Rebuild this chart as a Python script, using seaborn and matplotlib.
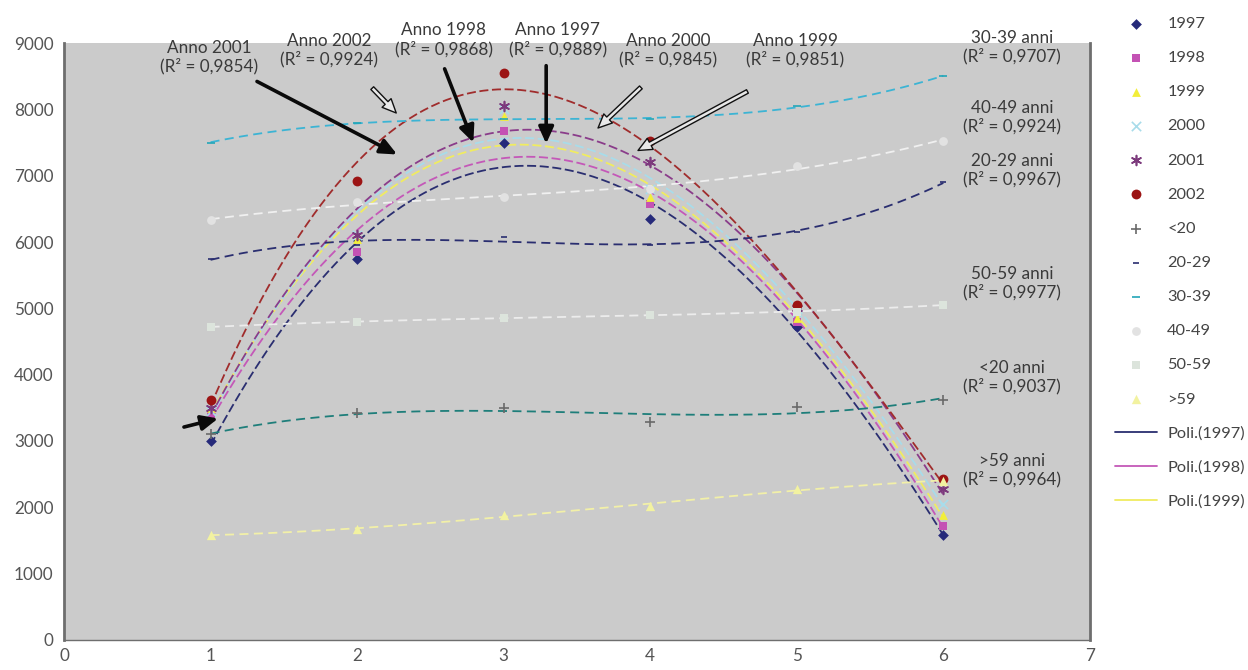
import numpy as np
import pandas as pd
import matplotlib
matplotlib.use("Agg")
import matplotlib.pyplot as plt
import seaborn as sns
from matplotlib.patches import FancyArrowPatch

# Position on the x axis (1..6)
x_pos = [1, 2, 3, 4, 5, 6]

# Series by year (points across age groups)
y1997 = [3000, 5750, 7500, 6350, 4720, 1580]
y1998 = [3400, 5850, 7680, 6580, 4800, 1720]
y1999 = [3500, 6050, 7900, 6680, 4850, 1880]
y2000 = [3450, 6100, 8000, 6800, 4950, 2050]
y2001 = [3500, 6100, 8050, 7200, 5000, 2280]
y2002 = [3620, 6920, 8550, 7520, 5050, 2420]

# Series by age group (points across years)
a_lt20 = [3100, 3420, 3500, 3280, 3520, 3620]
a_2029 = [5750, 5950, 6080, 5950, 6150, 6900]
a_3039 = [7500, 7800, 7850, 7850, 8050, 8500]
a_4049 = [6330, 6600, 6680, 6800, 7150, 7530]
a_5059 = [4720, 4800, 4850, 4900, 4950, 5050]
a_gt59 = [1580, 1680, 1880, 2020, 2280, 2400]

year_labels = ["1997", "1998", "1999", "2000", "2001", "2002"]
age_labels = ["<20", "20-29", "30-39", "40-49", "50-59", ">59"]

sns.set_style("white")
plt.rcParams["font.family"] = ["Lato", "DejaVu Sans"]

fig = plt.figure(figsize=(12.48, 6.70), dpi=100)
ax = fig.add_axes([0.0513, 0.0448, 0.8220, 0.8910])
ax.set_facecolor("#cbcbcb")

year_series = [y1997, y1998, y1999, y2000, y2001, y2002]
year_marker = ["D", "s", "^", "x", (6, 2, 0), "o"]
year_mcolor = ["#262a7a", "#c452b4", "#f2ee3a", "#a8dcea", "#7c3a7c", "#9c1414"]
year_msize = [30, 40, 40, 45, 50, 50]
year_lcolor = ["#2a2e70", "#c458b8", "#f0ec60", "#a8dcea", "#8a3c8a", "#a02c2c"]

age_series = [a_lt20, a_2029, a_3039, a_4049, a_5059, a_gt59]
age_marker = ["+", "_", "_", "o", "s", "^"]
age_mcolor = ["#6a6a6a", "#2a2e70", "#22a6b8", "#e2e2e2", "#dce4dc", "#f2f2a0"]
age_msize = [50, 20, 40, 40, 40, 45]
age_lcolor = ["#1e7e7a", "#2a2e70", "#3cb4d4", "#f0f0f0", "#ececec", "#f2f0a8"]

xs = np.linspace(1, 6, 200)
ORDER = 3

# Markers
for vals, lab, m, c, s in zip(year_series, year_labels, year_marker, year_mcolor, year_msize):
    sns.scatterplot(x=x_pos, y=vals, ax=ax, marker=m, color=c, s=s, label=lab,
                    linewidth=1.2 if m in ("x", (6, 2, 0)) else 0, zorder=5)
for vals, lab, m, c, s in zip(age_series, age_labels, age_marker, age_mcolor, age_msize):
    sns.scatterplot(x=x_pos, y=vals, ax=ax, marker=m, color=c, s=s, label=lab,
                    linewidth=1.2 if m in ("+", "_") else 0, zorder=5)

# Polynomial trend lines
for vals, lab, c in zip(year_series, year_labels, year_lcolor):
    coef = np.polyfit(x_pos, vals, ORDER)
    sns.lineplot(x=xs, y=np.polyval(coef, xs), ax=ax, color=c, lw=1.3,
                 linestyle=(0, (5, 2)), label=f"Poli.({lab})", zorder=3)
for vals, lab, c in zip(age_series, age_labels, age_lcolor):
    coef = np.polyfit(x_pos, vals, ORDER)
    sns.lineplot(x=xs, y=np.polyval(coef, xs), ax=ax, color=c, lw=1.3,
                 linestyle=(0, (5, 3)), label=f"Poli.({lab})", zorder=3)

ax.set_xlim(0, 7)
ax.set_ylim(0, 9000)
ax.set_xticks(range(0, 8))
ax.set_yticks(range(0, 9001, 1000))
ax.tick_params(axis="both", labelsize=12.3, colors="#555555", length=4, width=0.8,
               direction="out")
ax.tick_params(axis="x", pad=2)
for lbl in ax.get_xticklabels() + ax.get_yticklabels():
    lbl.set_color("#555555")
for side in ("left", "bottom", "right"):
    ax.spines[side].set_visible(True)
    ax.spines[side].set_color("#6e6e6e")
ax.spines["left"].set_linewidth(2.0)
ax.spines["bottom"].set_linewidth(1.0)
ax.spines["right"].set_linewidth(2.0)
ax.spines["top"].set_visible(False)

# Legend outside the plot on the right (first fifteen entries)
handles, labels = ax.get_legend_handles_labels()
ax.get_legend().remove()
leg = fig.legend(handles[:15], labels[:15], loc="upper left",
                 bbox_to_anchor=(0.888, 0.985), frameon=False, fontsize=11.8,
                 labelspacing=1.2, handlelength=2.6, handletextpad=0.6,
                 borderaxespad=0)
for t in leg.get_texts():
    t.set_color("#444444")
for ln in leg.get_lines():
    ln.set_linestyle("-")

# Labels for the trend lines
txt_kw = dict(ha="center", va="center", fontsize=12.3, color="#3a3a3a",
              linespacing=1.15, zorder=8)
year_notes = [
    ("Anno 2001\n(R² = 0,9854)", 0.99, 8790),
    ("Anno 2002\n(R² = 0,9924)", 1.81, 8895),
    ("Anno 1998\n(R² = 0,9868)", 2.59, 9050),
    ("Anno 1997\n(R² = 0,9889)", 3.37, 9050),
    ("Anno 2000\n(R² = 0,9845)", 4.12, 8895),
    ("Anno 1999\n(R² = 0,9851)", 4.99, 8895),
]
for t, x, y in year_notes:
    ax.text(x, y, t, clip_on=False, **txt_kw)

age_notes = [
    ("30-39 anni\n(R² = 0,9707)", 8940),
    ("40-49 anni\n(R² = 0,9924)", 7885),
    ("20-29 anni\n(R² = 0,9967)", 7086),
    ("50-59 anni\n(R² = 0,9977)", 5382),
    ("<20 anni\n(R² = 0,9037)", 3965),
    (">59 anni\n(R² = 0,9964)", 2563),
]
for t, y in age_notes:
    ax.text(6.47, y, t, **txt_kw)

# Arrows from labels to curves: (tail, head, hollow)
arrows = [
    ((1.30, 8440), (2.29, 7300), False),
    ((2.09, 8350), (2.28, 7915), True),
    ((2.59, 8650), (2.80, 7460), False),
    ((3.29, 8700), (3.29, 7440), False),
    ((3.95, 8360), (3.63, 7690), True),
    ((4.68, 8290), (3.90, 7360), True),
    ((0.80, 3200), (1.07, 3350), False),
]
for (x0, y0), (x1, y1), hollow in arrows:
    if hollow:
        arr = FancyArrowPatch((x0, y0), (x1, y1),
                              arrowstyle="simple,head_length=10,head_width=9,tail_width=2.8",
                              fc="#e8e8e8", ec="#111111", lw=1.0, zorder=9)
    else:
        arr = FancyArrowPatch((x0, y0), (x1, y1),
                              arrowstyle="-|>,head_length=10,head_width=4.5",
                              color="#0a0a0a", lw=2.6, zorder=9)
    ax.add_patch(arr)

fig.savefig("out.png", dpi=100, facecolor="white")
